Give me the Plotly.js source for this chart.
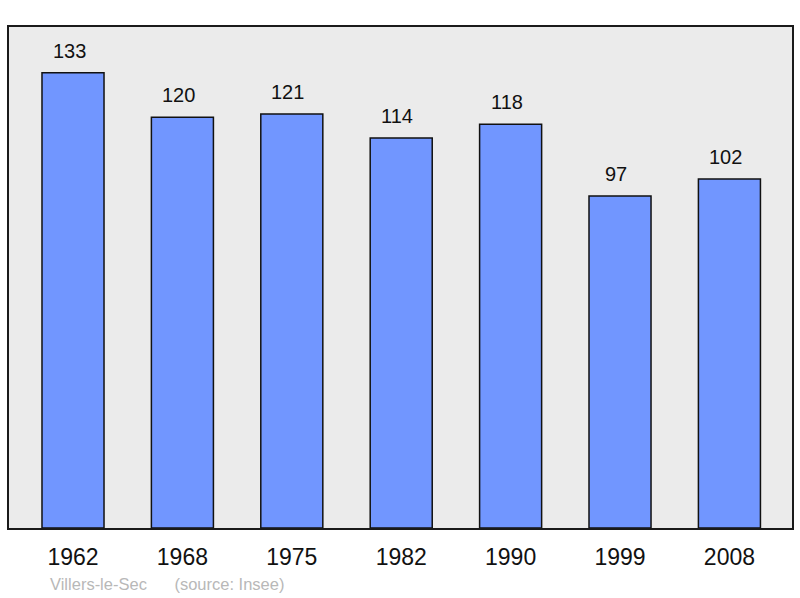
<!DOCTYPE html>
<html>
<head>
<meta charset="utf-8">
<script src="https://cdn.plot.ly/plotly-3.0.1.min.js"></script>
<style>html,body{margin:0;padding:0;background:#fff;}#chart{width:800px;height:598px;}</style>
</head>
<body>
<div id="chart"></div>
<script>
const years = ["1962", "1968", "1975", "1982", "1990", "1999", "2008"];
const population = [133, 120, 121, 114, 118, 97, 102];
const footerText = "Villers-le-Sec &nbsp;&nbsp;&nbsp;&nbsp;&nbsp;(source: Insee)";

const trace = {
  type: "bar",
  x: years.map((_, i) => i),
  y: population,
  width: 0.567,
  marker: { color: "#7196ff", line: { color: "#111", width: 1.5 } },
  hoverinfo: "skip"
};

const annotations = years.map((yr, i) => ({
  x: i, y: population[i], xref: "x", yref: "y",
  text: String(population[i]),
  showarrow: false, yanchor: "bottom", yshift: 9, xshift: -4,
  font: { family: "Liberation Sans, Arial, sans-serif", size: 20, color: "#111" }
}));
annotations.push({
  x: 0.05, y: -0.112, xref: "paper", yref: "paper",
  xanchor: "left", yanchor: "middle", showarrow: false,
  text: footerText,
  font: { family: "Liberation Sans, Arial, sans-serif", size: 16.5, color: "#b8b8b8" }
});

const layout = {
  width: 800, height: 598,
  margin: { l: 9, r: 8, t: 27, b: 70, pad: 0 },
  paper_bgcolor: "#ffffff",
  plot_bgcolor: "#ebebeb",
  showlegend: false,
  xaxis: {
    type: "linear",
    range: [-0.585, 6.572],
    tickmode: "array",
    tickvals: years.map((_, i) => i),
    ticktext: years,
    showgrid: false, zeroline: false,
    showline: true, mirror: true, linecolor: "#1a1a1a", linewidth: 2,
    ticks: "", ticklabelstandoff: 7,
    tickfont: { family: "Liberation Sans, Arial, sans-serif", size: 23, color: "#111" }
  },
  yaxis: {
    range: [0, 146.4],
    showgrid: false, zeroline: false, showticklabels: false,
    showline: true, mirror: true, linecolor: "#1a1a1a", linewidth: 2,
    ticks: ""
  },
  annotations: annotations
};

Plotly.newPlot("chart", [trace], layout, { staticPlot: true, displayModeBar: false });
</script>
</body>
</html>
